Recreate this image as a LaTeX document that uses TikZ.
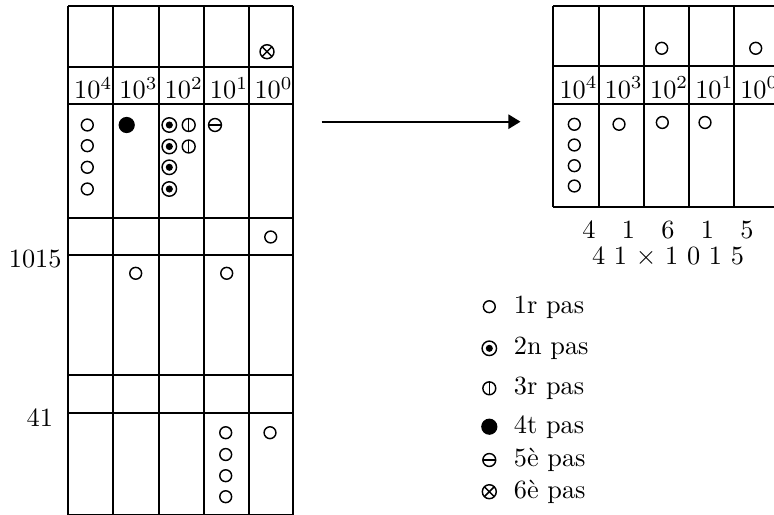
\documentclass[tikz,border=0pt]{standalone}
\usepackage{fontspec}
\usetikzlibrary{arrows.meta}
\begin{document}
\begin{tikzpicture}[x=0.38pt,y=-0.38pt,
  rule/.style={line width=0.7pt},
  sym/.style={circle,draw,line width=0.55pt,inner sep=0pt,outer sep=0pt},
  cO/.style={sym,minimum size=4.5pt},
  cDot/.style={sym,minimum size=5.5pt,path picture={\fill (path picture bounding box.center) circle (1.35pt);}},
  cV/.style={sym,minimum size=4.9pt,path picture={\draw[line width=0.55pt] (path picture bounding box.north) -- (path picture bounding box.south);}},
  cB/.style={sym,fill,minimum size=5.6pt},
  cH/.style={sym,minimum size=4.9pt,path picture={\draw[line width=0.55pt] (path picture bounding box.west) -- (path picture bounding box.east);}},
  cX/.style={sym,minimum size=5.3pt,path picture={\draw[line width=0.55pt] (path picture bounding box.north west) -- (path picture bounding box.south east) (path picture bounding box.north east) -- (path picture bounding box.south west);}},
  hd/.style={anchor=base,inner sep=0pt},
  lbl/.style={anchor=base east,inner sep=0pt},
  leg/.style={anchor=base west,inner sep=0pt},
  arr/.style={line width=0.8pt,-{Triangle[length=4.6pt,width=5.4pt]}}
]
\useasboundingbox (0,0) rectangle (774,514);

% left table
\foreach \x in {68.3,113.3,158.7,204,249,293.3}
  \draw[rule] (\x,6) -- (\x,516);
\foreach \y in {6,66.7,104,218.3,255,375,412.7,515}
  \draw[rule] (68.3,\y) -- (293.3,\y);

\node[hd] (h1) at (93.3,98.8) {$10^{4}$};
\node[hd] (h2) at (138.5,98.8) {$10^{3}$};
\node[hd] (h3) at (183.8,98.8) {$10^{2}$};
\node[hd] (h4) at (229,98.8) {$10^{1}$};
\node[hd] (h5) at (273.6,98.8) {$10^{0}$};

\node[lbl] (n1015) at (62,268) {1015};
\node[lbl] (n41) at (53.5,426) {41};

% left symbols
\node[cX] (x1) at (267,51.7) {};
\node[cO] (a1) at (87.3,125) {};
\node[cO] (a2) at (87.3,145.7) {};
\node[cO] (a3) at (87.3,167.3) {};
\node[cO] (a4) at (87.3,189) {};
\node[cB] (b1) at (126.7,125) {};
\node[cDot] (d1) at (169.3,125) {};
\node[cDot] (d2) at (169.3,146.5) {};
\node[cDot] (d3) at (169.3,167.3) {};
\node[cDot] (d4) at (169.3,189) {};
\node[cV] (v1) at (188.7,125) {};
\node[cV] (v2) at (188.7,146.5) {};
\node[cH] (m1) at (215,125) {};
\node[cO] (a5) at (270.7,237) {};
\node[cO] (a6) at (135.7,273.3) {};
\node[cO] (a7) at (226.7,273.3) {};
\node[cO] (a8) at (225.7,432.7) {};
\node[cO] (a9) at (225.7,454.5) {};
\node[cO] (a10) at (225.7,475.7) {};
\node[cO] (a11) at (225.7,496.7) {};
\node[cO] (a12) at (270,432.7) {};

% arrow
\coordinate (arrS) at (321.7,121.7);
\coordinate (arrE) at (520.5,121.7);
\draw[arr] (arrS) -- (arrE);

% right table
\foreach \x in {553.3,599,644,689.3,734.3,779.3}
  \draw[rule] (\x,6) -- (\x,206.7);
\foreach \y in {6,66,104,206.7}
  \draw[rule] (553.3,\y) -- (780,\y);

\node[hd] (r1) at (578.6,98.5) {$10^{4}$};
\node[hd] (r2) at (623.7,98.5) {$10^{3}$};
\node[hd] (r3) at (669.2,98.5) {$10^{2}$};
\node[hd] (r4) at (714.3,98.5) {$10^{1}$};
\node[hd] (r5) at (759.3,98.5) {$10^{0}$};

\node[cO] (s1) at (661.7,48.3) {};
\node[cO] (s2) at (755.7,48.3) {};
\node[cO] (s3) at (574.3,124.3) {};
\node[cO] (s4) at (574.3,145) {};
\node[cO] (s5) at (574.3,165.7) {};
\node[cO] (s6) at (574.3,186) {};
\node[cO] (s7) at (619,124.3) {};
\node[cO] (s8) at (662.3,122.5) {};
\node[cO] (s9) at (705,122.5) {};

\node[hd] (digits) at (668,238.3) {4\quad1\quad6\quad1\quad5};
\node[hd] (prod) at (668,265) {4 1 $\times$ 1 0 1 5};

% legend
\node[cO] (l1) at (489.3,306.7) {};
\node[cDot] (l2) at (489.3,348.3) {};
\node[cV] (l3) at (489.3,388.3) {};
\node[cB] (l4) at (489.3,426.7) {};
\node[cH] (l5) at (489.3,460) {};
\node[cX] (l6) at (489.3,491.7) {};
\node[leg] (t1) at (513.3,313.2) {1r pas};
\node[leg] (t2) at (513.3,354.8) {2n pas};
\node[leg] (t3) at (513.3,394.8) {3r pas};
\node[leg] (t4) at (513.3,433.2) {4t pas};
\node[leg] (t5) at (513.3,466.5) {5è pas};
\node[leg] (t6) at (513.3,498.2) {6è pas};
\end{tikzpicture}
\end{document}
